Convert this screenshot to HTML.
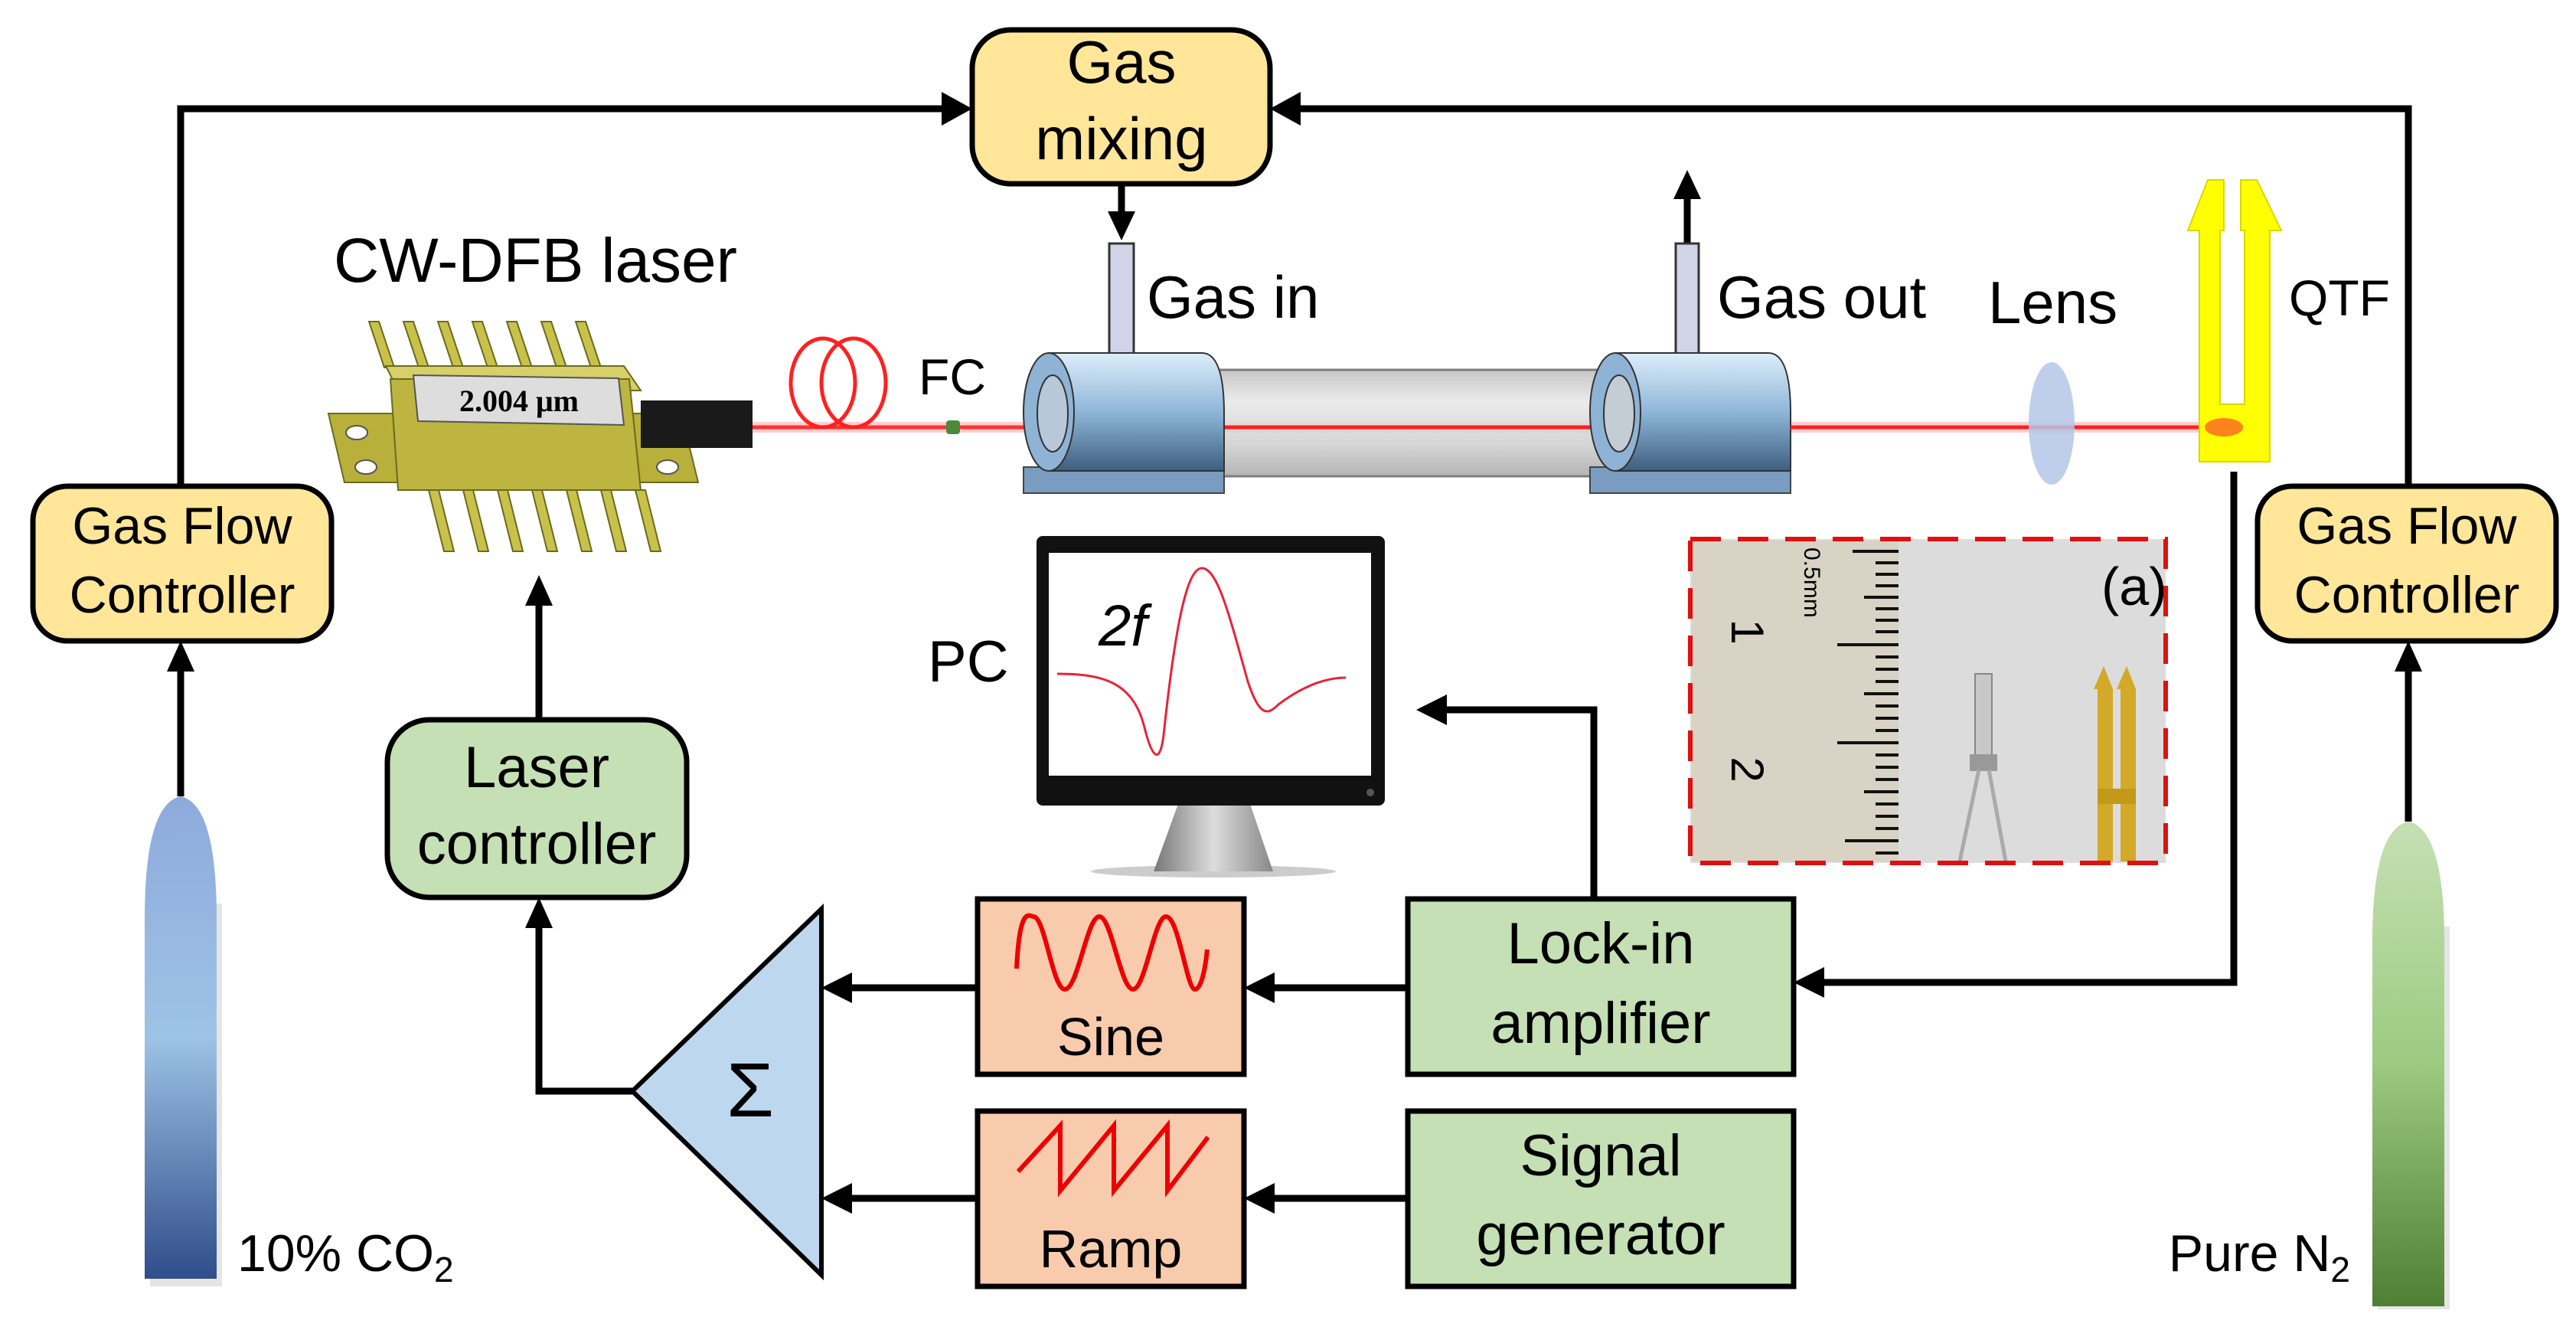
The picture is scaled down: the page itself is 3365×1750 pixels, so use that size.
<!DOCTYPE html>
<html><head><meta charset="utf-8"><style>
html,body{margin:0;padding:0;background:#fff}
svg{display:block}
text{font-family:"Liberation Sans Narrow","Liberation Sans",sans-serif;fill:#000}
</style></head><body>
<svg width="3365" height="1750" viewBox="0 0 3365 1750" xmlns="http://www.w3.org/2000/svg">
<defs>
<linearGradient id="cb" x1="0" y1="0" x2="0" y2="1"><stop offset="0" stop-color="#8eaadb"/><stop offset="0.5" stop-color="#9dc3e6"/><stop offset="1" stop-color="#2f4d8a"/></linearGradient>
<linearGradient id="cg" x1="0" y1="0" x2="0" y2="1"><stop offset="0" stop-color="#c5e0b4"/><stop offset="0.5" stop-color="#9ccb80"/><stop offset="1" stop-color="#4e7f32"/></linearGradient>
<linearGradient id="hb" x1="0" y1="0" x2="0" y2="1"><stop offset="0" stop-color="#ddeefa"/><stop offset="0.5" stop-color="#8fb6d8"/><stop offset="1" stop-color="#3d5f80"/></linearGradient>
<linearGradient id="tb" x1="0" y1="0" x2="0" y2="1"><stop offset="0" stop-color="#bdbdbd"/><stop offset="0.3" stop-color="#e8e8e8"/><stop offset="0.7" stop-color="#cfcfcf"/><stop offset="1" stop-color="#a8a8a8"/></linearGradient>
<linearGradient id="st" x1="0" y1="0" x2="1" y2="0"><stop offset="0" stop-color="#777"/><stop offset="0.5" stop-color="#ddd"/><stop offset="1" stop-color="#888"/></linearGradient>
</defs>

<g stroke="#000" stroke-width="9" fill="none">
<polyline points="236,635 236,142 1235,142"/>
<polyline points="3146,635 3146,142 1695,142"/>
<line x1="1465" y1="240" x2="1465" y2="280"/>
<line x1="2204" y1="318" x2="2204" y2="255"/>
<line x1="236" y1="1040" x2="236" y2="870"/>
<line x1="3146" y1="1073" x2="3146" y2="870"/>
<line x1="704" y1="940" x2="704" y2="785"/>
<polyline points="826,1425 704,1425 704,1205"/>
<line x1="1839" y1="1290" x2="1660" y2="1290"/>
<line x1="1277" y1="1290" x2="1108" y2="1290"/>
<line x1="1839" y1="1565" x2="1660" y2="1565"/>
<line x1="1277" y1="1565" x2="1108" y2="1565"/>
<polyline points="2082,1174 2082,927 1885,927"/>
<polyline points="2918,616 2918,1283 2378,1283"/>
</g>
<g fill="#000">
<polygon points="1270,142 1230,120 1230,164"/>
<polygon points="1659,142 1699,120 1699,164"/>
<polygon points="1465,314 1447,276 1483,276"/>
<polygon points="2204,222 2186,260 2222,260"/>
<polygon points="236,837 218,877 254,877"/>
<polygon points="3146,837 3128,877 3164,877"/>
<polygon points="704,751 686,791 722,791"/>
<polygon points="704,1172 686,1212 722,1212"/>
<polygon points="1625,1290 1665,1270 1665,1310"/>
<polygon points="1073,1290 1113,1270 1113,1310"/>
<polygon points="1625,1565 1665,1545 1665,1585"/>
<polygon points="1073,1565 1113,1545 1113,1585"/>
<polygon points="1850,927 1890,907 1890,947"/>
<polygon points="2343,1283 2383,1263 2383,1303"/>
</g>

<rect x="1270" y="39" width="389" height="201" rx="50" fill="#ffe699" stroke="#000" stroke-width="7"/>
<text x="1465" y="108" font-size="78" text-anchor="middle">Gas</text>
<text x="1465" y="208" font-size="78" text-anchor="middle">mixing</text>

<rect x="43" y="635" width="390" height="202" rx="45" fill="#ffe699" stroke="#000" stroke-width="7"/>
<text x="238" y="710" font-size="68" text-anchor="middle">Gas Flow</text>
<text x="238" y="800" font-size="68" text-anchor="middle">Controller</text>
<rect x="2949" y="635" width="390" height="202" rx="45" fill="#ffe699" stroke="#000" stroke-width="7"/>
<text x="3144" y="710" font-size="68" text-anchor="middle">Gas Flow</text>
<text x="3144" y="800" font-size="68" text-anchor="middle">Controller</text>

<rect x="196" y="1180" width="94" height="500" fill="#ccc" opacity="0.5"/>
<path d="M189,1670 L189,1200 Q189,1050 236,1040 Q283,1050 283,1200 L283,1670 Z" fill="url(#cb)"/>
<text x="310" y="1660" font-size="68">10% CO<tspan font-size="46" dy="14">2</tspan></text>
<rect x="3106" y="1210" width="94" height="500" fill="#ccc" opacity="0.5"/>
<path d="M3099,1706 L3099,1230 Q3099,1083 3146,1073 Q3193,1083 3193,1230 L3193,1706 Z" fill="url(#cg)"/>
<text x="3070" y="1660" font-size="68" text-anchor="end">Pure N<tspan font-size="46" dy="14">2</tspan></text>

<rect x="506" y="940" width="391" height="232" rx="55" fill="#c5e0b4" stroke="#000" stroke-width="7"/>
<text x="701" y="1028" font-size="76" text-anchor="middle">Laser</text>
<text x="701" y="1128" font-size="76" text-anchor="middle">controller</text>

<polygon points="826,1425 1073,1187 1073,1665" fill="#bdd7ee" stroke="#000" stroke-width="6"/>
<text x="980" y="1458" font-size="100" text-anchor="middle">Σ</text>

<rect x="1277" y="1174" width="348" height="229" fill="#f8cbad" stroke="#000" stroke-width="7"/>
<path d="M1328,1265 C1332,1180 1345,1197 1350,1197 C1365,1197 1375,1292 1391,1292 C1408,1292 1420,1197 1436,1197 C1452,1197 1464,1292 1480,1292 C1496,1292 1508,1197 1523,1197 C1540,1197 1550,1292 1561,1292 C1570,1292 1575,1260 1577,1240" stroke="#e00" stroke-width="6" fill="none"/>
<text x="1451" y="1378" font-size="70" text-anchor="middle">Sine</text>
<rect x="1277" y="1451" width="348" height="229" fill="#f8cbad" stroke="#000" stroke-width="7"/>
<polyline points="1330,1530 1385,1470 1385,1555 1455,1470 1455,1555 1525,1470 1525,1555 1578,1485" stroke="#e00" stroke-width="6" fill="none"/>
<text x="1451" y="1655" font-size="70" text-anchor="middle">Ramp</text>

<rect x="1839" y="1174" width="504" height="229" fill="#c5e0b4" stroke="#000" stroke-width="7"/>
<text x="2091" y="1258" font-size="76" text-anchor="middle">Lock-in</text>
<text x="2091" y="1362" font-size="76" text-anchor="middle">amplifier</text>
<rect x="1839" y="1451" width="504" height="229" fill="#c5e0b4" stroke="#000" stroke-width="7"/>
<text x="2091" y="1535" font-size="76" text-anchor="middle">Signal</text>
<text x="2091" y="1638" font-size="76" text-anchor="middle">generator</text>

<text x="1212" y="890" font-size="76">PC</text>
<ellipse cx="1585" cy="1138" rx="160" ry="8" fill="#ccc"/>
<polygon points="1539,1050 1633,1050 1663,1138 1507,1138" fill="url(#st)"/>
<rect x="1354" y="700" width="455" height="352" rx="8" fill="#111"/>
<rect x="1370" y="722" width="421" height="291" fill="#fff"/>
<circle cx="1790" cy="1035" r="5" fill="#555"/>
<path d="M1381,880 C1440,880 1480,890 1495,950 C1505,990 1515,1000 1520,960 C1535,820 1550,742 1570,742 C1590,742 1605,800 1630,890 C1645,935 1655,935 1670,920 C1710,890 1740,885 1758,885" stroke="#e6243a" stroke-width="3" fill="none"/>
<text x="1435" y="843" font-size="76" font-style="italic">2f</text>

<text x="436" y="368" font-size="82">CW-DFB laser</text>
<g stroke="#6b6a20" stroke-width="2" fill="#c9c24a">
<polygon points="482,420 495,420 515,480 502,480"/><polygon points="527,420 540,420 560,480 547,480"/>
<polygon points="572,420 585,420 605,480 592,480"/><polygon points="617,420 630,420 650,480 637,480"/>
<polygon points="662,420 675,420 695,480 682,480"/><polygon points="707,420 720,420 740,480 727,480"/>
<polygon points="752,420 765,420 785,480 772,480"/>
<polygon points="429,540 890,540 912,630 450,630" fill="#b8b03a"/>
<polygon points="504,478 815,478 837,510 520,510" fill="#d6cf6a"/>
<polygon points="510,495 822,495 837,640 520,640" fill="#bdb540"/>
<polygon points="560,640 573,640 593,720 580,720"/><polygon points="605,640 618,640 638,720 625,720"/>
<polygon points="650,640 663,640 683,720 670,720"/><polygon points="695,640 708,640 728,720 715,720"/>
<polygon points="740,640 753,640 773,720 760,720"/><polygon points="785,640 798,640 818,720 805,720"/>
<polygon points="830,640 843,640 863,720 850,720"/>
</g>
<ellipse cx="466" cy="565" rx="14" ry="9" fill="#fff" stroke="#555" stroke-width="2"/>
<ellipse cx="478" cy="610" rx="14" ry="9" fill="#fff" stroke="#555" stroke-width="2"/>
<ellipse cx="872" cy="610" rx="14" ry="9" fill="#fff" stroke="#555" stroke-width="2"/>
<polygon points="540,490 808,494 815,555 546,550" fill="#ddd" stroke="#555" stroke-width="2"/>
<text x="678" y="537" font-size="40" font-weight="bold" text-anchor="middle" style="font-family:'Liberation Serif',serif">2.004 μm</text>
<rect x="837" y="523" width="146" height="62" fill="#1a1a1a"/>

<line x1="983" y1="558" x2="2905" y2="558" stroke="#ff2020" stroke-width="5"/>
<line x1="983" y1="558" x2="2905" y2="558" stroke="#ff6060" stroke-width="14" opacity="0.3"/>
<ellipse cx="1075" cy="500" rx="42" ry="58" fill="none" stroke="#ff2020" stroke-width="5"/>
<ellipse cx="1115" cy="500" rx="42" ry="58" fill="none" stroke="#ff2020" stroke-width="5"/>
<text x="1200" y="515" font-size="66">FC</text>
<rect x="1236" y="549" width="18" height="18" rx="4" fill="#4a8a3a"/>

<rect x="1580" y="483" width="520" height="139" fill="url(#tb)" stroke="#666" stroke-width="3" opacity="0.85"/>
<line x1="1580" y1="558" x2="2100" y2="558" stroke="#ff2020" stroke-width="5"/>
<rect x="1449" y="318" width="32" height="150" fill="#d0d4e6" stroke="#333" stroke-width="3"/>
<rect x="2189" y="318" width="30" height="150" fill="#d0d4e6" stroke="#333" stroke-width="3"/>
<rect x="1337" y="610" width="262" height="34" fill="#7a9cc0" stroke="#444" stroke-width="2"/>
<path d="M1370,461 L1570,461 Q1599,461 1599,540 L1599,615 L1370,615 Z" fill="url(#hb)" stroke="#333" stroke-width="2"/>
<ellipse cx="1370" cy="538" rx="33" ry="77" fill="#8fb3d4" stroke="#333" stroke-width="2"/>
<ellipse cx="1375" cy="540" rx="20" ry="50" fill="#b9c8d8" stroke="#333" stroke-width="2"/>
<rect x="2077" y="610" width="262" height="34" fill="#7a9cc0" stroke="#444" stroke-width="2"/>
<path d="M2110,461 L2310,461 Q2339,461 2339,540 L2339,615 L2110,615 Z" fill="url(#hb)" stroke="#333" stroke-width="2"/>
<ellipse cx="2110" cy="538" rx="33" ry="77" fill="#8fb3d4" stroke="#333" stroke-width="2"/>
<ellipse cx="2115" cy="540" rx="20" ry="50" fill="#c4ccd4" stroke="#333" stroke-width="2"/>
<line x1="2339" y1="558" x2="2905" y2="558" stroke="#ff2020" stroke-width="5"/>
<text x="1498" y="415" font-size="78">Gas in</text>
<text x="2243" y="415" font-size="78">Gas out</text>
<text x="2597" y="422" font-size="78">Lens</text>

<ellipse cx="2680" cy="553" rx="30" ry="80" fill="#b4c7e7" opacity="0.85"/>

<path d="M2873,603 L2873,301 L2858,301 L2884,235 L2905,235 L2905,301 L2900,301 L2900,528 L2932,528 L2932,301 L2927,301 L2927,235 L2948,235 L2980,301 L2965,301 L2965,603 Z" fill="#ffff00" stroke="#d8d800" stroke-width="2"/>
<ellipse cx="2905" cy="558" rx="25" ry="12" fill="#ff3030" opacity="0.6"/>
<text x="2990" y="412" font-size="66">QTF</text>

<rect x="2208" y="704" width="621" height="423" fill="#dcdcdc"/>
<rect x="2210" y="706" width="270" height="419" fill="#d9d3c5"/>
<g stroke="#111" stroke-width="4">
<line x1="2420" y1="720" x2="2480" y2="720"/><line x1="2450" y1="735" x2="2480" y2="735"/><line x1="2450" y1="750" x2="2480" y2="750"/><line x1="2450" y1="765" x2="2480" y2="765"/><line x1="2435" y1="780" x2="2480" y2="780"/><line x1="2450" y1="795" x2="2480" y2="795"/><line x1="2450" y1="810" x2="2480" y2="810"/><line x1="2450" y1="825" x2="2480" y2="825"/><line x1="2400" y1="842" x2="2480" y2="842"/><line x1="2450" y1="858" x2="2480" y2="858"/><line x1="2450" y1="874" x2="2480" y2="874"/><line x1="2450" y1="890" x2="2480" y2="890"/><line x1="2435" y1="906" x2="2480" y2="906"/><line x1="2450" y1="922" x2="2480" y2="922"/><line x1="2450" y1="938" x2="2480" y2="938"/><line x1="2450" y1="954" x2="2480" y2="954"/><line x1="2400" y1="970" x2="2480" y2="970"/><line x1="2450" y1="986" x2="2480" y2="986"/><line x1="2450" y1="1002" x2="2480" y2="1002"/><line x1="2450" y1="1018" x2="2480" y2="1018"/><line x1="2435" y1="1034" x2="2480" y2="1034"/><line x1="2450" y1="1050" x2="2480" y2="1050"/><line x1="2450" y1="1066" x2="2480" y2="1066"/><line x1="2450" y1="1082" x2="2480" y2="1082"/><line x1="2410" y1="1098" x2="2480" y2="1098"/><line x1="2450" y1="1114" x2="2480" y2="1114"/>
</g>
<text transform="translate(2262,825) rotate(90)" font-size="60" text-anchor="middle">1</text>
<text transform="translate(2262,1005) rotate(90)" font-size="60" text-anchor="middle">2</text>
<text transform="translate(2357,715) rotate(90)" font-size="30">0.5mm</text>
<rect x="2580" y="880" width="22" height="110" fill="#c8c8c8" stroke="#888" stroke-width="2"/>
<rect x="2573" y="985" width="36" height="22" fill="#999"/>
<path d="M2585,1005 L2560,1125 M2598,1005 L2620,1125" stroke="#aaa" stroke-width="5"/>
<path d="M2740,1125 L2740,900 L2735,900 L2748,870 L2760,900 L2760,1125 Z M2770,1125 L2770,900 L2765,900 L2778,870 L2790,900 L2790,1125 Z" fill="#d4a828"/>
<rect x="2740" y="1030" width="50" height="20" fill="#c49818"/>
<text x="2745" y="790" font-size="70">(a)</text>
<rect x="2208" y="704" width="621" height="423" fill="none" stroke="#e01010" stroke-width="6" stroke-dasharray="40,22"/>
</svg>
</body></html>
